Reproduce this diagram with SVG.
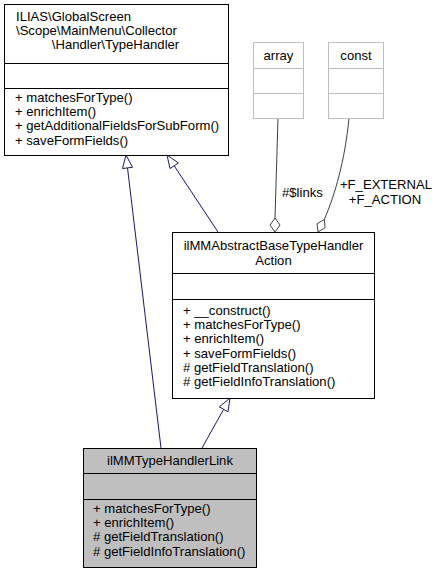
<svg xmlns="http://www.w3.org/2000/svg" width="440" height="575" viewBox="0 0 440 575">
<style>
text{font-family:"Liberation Sans",Arial,sans-serif;font-size:13.1px;fill:#000}
.c{text-anchor:middle}
.box{fill:#fff;stroke:#000;stroke-width:1}
.gbox{fill:#bfbfbf;stroke:#000;stroke-width:1}
.lbox{fill:#fff;stroke:#bfbfbf;stroke-width:1}
.inh{fill:none;stroke:#191970;stroke-width:1}
.inhh{fill:#fff;stroke:#191970;stroke-width:1}
.agg{fill:none;stroke:#404040;stroke-width:1}
.aggh{fill:#fff;stroke:#404040;stroke-width:1}
</style>
<rect width="440" height="575" fill="#fff"/>
<g id="edges">
<path class="inh" d="M161,448 L127.5,167.9"/>
<polygon class="inhh" points="126,155 132.5,167.3 122.5,168.5"/>
<path class="inh" d="M218,232 L174.2,165.8"/>
<polygon class="inhh" points="167,155 178.4,163 170,168.6"/>
<path class="inh" d="M202,448 L223.6,409.4"/>
<polygon class="inhh" points="230,398 228,411.8 219.3,406.9"/>
<path class="agg" d="M278,118 L275,218"/>
<polygon class="aggh" points="275,232 280,225 275,218 270,225"/>
<text x="282" y="197">#$links</text>
<path class="agg" d="M349,118 C345,160 335,195 324.3,219.5"/>
<polygon class="aggh" points="318,232 325.1,227.7 324.3,219.5 317.1,223.7"/>
<text class="c" x="386" y="189">+F_EXTERNAL</text>
<text class="c" x="385" y="204">+F_ACTION</text>
</g>
<g id="node-typehandler">
<rect class="box" x="4.5" y="4.5" width="224" height="151"/>
<line x1="4.5" y1="63.5" x2="228.5" y2="63.5" stroke="#000"/>
<line x1="4.5" y1="88.5" x2="228.5" y2="88.5" stroke="#000"/>
<text x="16" y="21">ILIAS\GlobalScreen</text>
<text x="16" y="35">\Scope\MainMenu\Collector</text>
<text class="c" x="115.5" y="49">\Handler\TypeHandler</text>
<text x="15" y="102">+ matchesForType()</text>
<text x="15" y="116">+ enrichItem()</text>
<text x="15" y="130">+ getAdditionalFieldsForSubForm()</text>
<text x="15" y="145">+ saveFormFields()</text>
</g>
<g id="node-array">
<rect class="lbox" x="253.5" y="42.5" width="50" height="76"/>
<line x1="253.5" y1="68.5" x2="303.5" y2="68.5" stroke="#bfbfbf"/>
<line x1="253.5" y1="93.5" x2="303.5" y2="93.5" stroke="#bfbfbf"/>
<text class="c" x="278.5" y="60">array</text>
</g>
<g id="node-const">
<rect class="lbox" x="328.5" y="42.5" width="55" height="76"/>
<line x1="328.5" y1="68.5" x2="383.5" y2="68.5" stroke="#bfbfbf"/>
<line x1="328.5" y1="93.5" x2="383.5" y2="93.5" stroke="#bfbfbf"/>
<text class="c" x="356" y="60">const</text>
</g>
<g id="node-abstract">
<rect class="box" x="172.5" y="232.5" width="202" height="166"/>
<line x1="172.5" y1="273.5" x2="374.5" y2="273.5" stroke="#000"/>
<line x1="172.5" y1="299.5" x2="374.5" y2="299.5" stroke="#000"/>
<text class="c" x="273.5" y="250">ilMMAbstractBaseTypeHandler</text>
<text class="c" x="273.5" y="265">Action</text>
<text x="183" y="315">+ __construct()</text>
<text x="183" y="329">+ matchesForType()</text>
<text x="183" y="343">+ enrichItem()</text>
<text x="183" y="358">+ saveFormFields()</text>
<text x="183" y="372"># getFieldTranslation()</text>
<text x="183" y="386"># getFieldInfoTranslation()</text>
</g>
<g id="node-link">
<rect class="gbox" x="83.5" y="448.5" width="173" height="119"/>
<line x1="83.5" y1="473.5" x2="256.5" y2="473.5" stroke="#000"/>
<line x1="83.5" y1="499.5" x2="256.5" y2="499.5" stroke="#000"/>
<text class="c" x="170" y="465">ilMMTypeHandlerLink</text>
<text x="93" y="513">+ matchesForType()</text>
<text x="93" y="527">+ enrichItem()</text>
<text x="93" y="541"># getFieldTranslation()</text>
<text x="93" y="556"># getFieldInfoTranslation()</text>
</g>
</svg>
